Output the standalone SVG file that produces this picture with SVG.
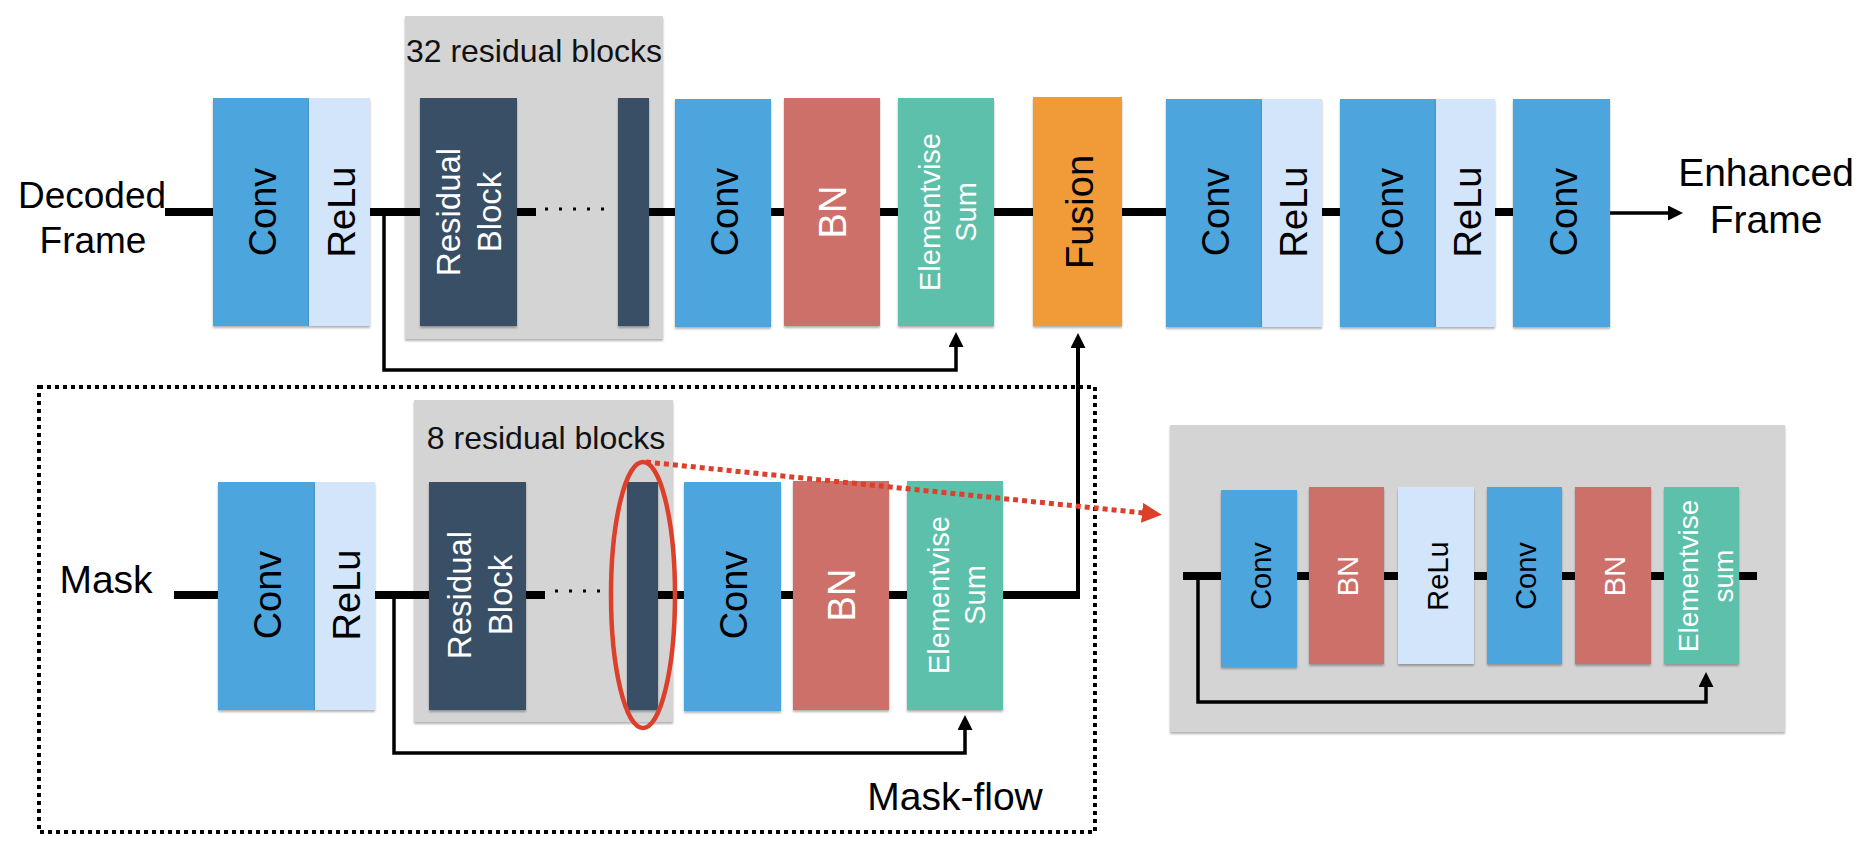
<svg xmlns="http://www.w3.org/2000/svg" width="1875" height="846" viewBox="0 0 1875 846">
<style>
text{font-family:"Liberation Sans",Arial,sans-serif;}
.lbl{font-size:38px;text-anchor:middle;fill:#000;}
.w{fill:#fff;}
.mid{font-size:33px;text-anchor:middle;}
.sm{font-size:29px;text-anchor:middle;}
.cap{font-size:32px;text-anchor:middle;fill:#111;}
.big{font-size:39px;text-anchor:middle;fill:#000;}
.conv{fill:#4ea5de;}
.relu{fill:#d3e5fa;}
.res{fill:#374f66;}
.bn{fill:#cd6f69;}
.sum{fill:#5dc0aa;}
.fus{fill:#f09b38;}
.grp{fill:#d4d4d4;}
.thick{stroke:#000;stroke-width:8;fill:none;}
.thin{stroke:#000;stroke-width:3.5;fill:none;}
.dots{stroke:#000;stroke-width:3;stroke-dasharray:3 11;fill:none;}
</style>
<defs>
<filter id="sh" x="-10%" y="-10%" width="120%" height="120%">
<feDropShadow dx="0" dy="2" stdDeviation="1.2" flood-color="#000" flood-opacity="0.3"/>
</filter>
<marker id="arr" viewBox="0 0 15 15" refX="3" refY="7.5" markerWidth="15" markerHeight="15" markerUnits="userSpaceOnUse" orient="auto">
<path d="M0,0 L15,7.5 L0,15 z" fill="#000"/>
</marker>
<marker id="arrRed" viewBox="0 0 20 20" refX="2" refY="10" markerWidth="20" markerHeight="20" markerUnits="userSpaceOnUse" orient="auto">
<path d="M0,0 L20,10 L0,20 z" fill="#dc3f2a"/>
</marker>
</defs>
<rect width="1875" height="846" fill="#fff"/>

<!-- containers -->
<g id="group32">
<rect class="grp" x="405" y="16" width="258" height="323" filter="url(#sh)"/>
<text class="cap" x="534" y="62">32 residual blocks</text>
</g>
<g id="maskflow">
<rect x="39" y="387" width="1056" height="445" fill="none" stroke="#000" stroke-width="4" stroke-dasharray="4 4"/>
<text class="big" x="955" y="810">Mask-flow</text>
</g>
<g id="group8">
<rect class="grp" x="414" y="400" width="259" height="322" filter="url(#sh)"/>
<text class="cap" x="546" y="449">8 residual blocks</text>
</g>
<g id="detail">
<rect class="grp" x="1170" y="425" width="615" height="307" filter="url(#sh)"/>
</g>

<!-- outer labels -->
<g id="input-decoded">
<text class="big" style="font-size:37px" x="92" y="208">Decoded</text>
<text class="big" style="font-size:37px" x="93" y="253">Frame</text>
</g>
<g id="output-enhanced">
<text class="big" x="1766" y="186">Enhanced</text>
<text class="big" x="1766" y="233">Frame</text>
</g>
<g id="input-mask">
<text class="big" x="106" y="593">Mask</text>
</g>

<!-- top row -->
<g id="t-conv1"><rect class="conv" x="213" y="98" width="96" height="228" filter="url(#sh)"/><text class="lbl" transform="translate(276,212) rotate(-90)">Conv</text></g>
<g id="t-relu1"><rect class="relu" x="309" y="98" width="61" height="228" filter="url(#sh)"/><text class="lbl" transform="translate(355,212) rotate(-90)">ReLu</text></g>
<g id="t-res"><rect class="res" x="420" y="98" width="97" height="228" filter="url(#sh)"/><text class="mid w" transform="translate(460,212) rotate(-90)">Residual</text><text class="mid w" transform="translate(501,212) rotate(-90)">Block</text></g>
<g id="t-bar"><rect class="res" x="618" y="98" width="31" height="228" filter="url(#sh)"/></g>
<g id="t-conv2"><rect class="conv" x="675" y="99" width="96" height="228" filter="url(#sh)"/><text class="lbl" transform="translate(738,212) rotate(-90)">Conv</text></g>
<g id="t-bn"><rect class="bn" x="784" y="98" width="96" height="228" filter="url(#sh)"/><text class="lbl w" transform="translate(846,212) rotate(-90)">BN</text></g>
<g id="t-sum"><rect class="sum" x="898" y="98" width="96" height="228" filter="url(#sh)"/><text class="sm w" transform="translate(940,212) rotate(-90)">Elementvise</text><text class="sm w" transform="translate(976,212) rotate(-90)">Sum</text></g>
<g id="t-fusion"><rect class="fus" x="1033" y="97" width="89" height="229" filter="url(#sh)"/><text class="lbl" transform="translate(1093,212) rotate(-90)">Fusion</text></g>
<g id="t-conv3"><rect class="conv" x="1166" y="99" width="96" height="228" filter="url(#sh)"/><text class="lbl" transform="translate(1229,212) rotate(-90)">Conv</text></g>
<g id="t-relu3"><rect class="relu" x="1262" y="99" width="60" height="228" filter="url(#sh)"/><text class="lbl" transform="translate(1307,212) rotate(-90)">ReLu</text></g>
<g id="t-conv4"><rect class="conv" x="1340" y="99" width="96" height="228" filter="url(#sh)"/><text class="lbl" transform="translate(1403,212) rotate(-90)">Conv</text></g>
<g id="t-relu4"><rect class="relu" x="1436" y="99" width="59" height="228" filter="url(#sh)"/><text class="lbl" transform="translate(1481,212) rotate(-90)">ReLu</text></g>
<g id="t-conv5"><rect class="conv" x="1513" y="99" width="97" height="228" filter="url(#sh)"/><text class="lbl" transform="translate(1577,212) rotate(-90)">Conv</text></g>

<!-- mask row -->
<g id="m-conv1"><rect class="conv" x="218" y="482" width="97" height="228" filter="url(#sh)"/><text class="lbl" transform="translate(281,595) rotate(-90)">Conv</text></g>
<g id="m-relu1"><rect class="relu" x="315" y="482" width="60" height="228" filter="url(#sh)"/><text class="lbl" transform="translate(360,595) rotate(-90)">ReLu</text></g>
<g id="m-res"><rect class="res" x="429" y="482" width="97" height="228" filter="url(#sh)"/><text class="mid w" transform="translate(471,595) rotate(-90)">Residual</text><text class="mid w" transform="translate(512,595) rotate(-90)">Block</text></g>
<g id="m-bar"><rect class="res" x="627" y="482" width="31" height="228" filter="url(#sh)"/></g>
<g id="m-conv2"><rect class="conv" x="684" y="482" width="97" height="229" filter="url(#sh)"/><text class="lbl" transform="translate(747,595) rotate(-90)">Conv</text></g>
<g id="m-bn"><rect class="bn" x="793" y="481" width="96" height="229" filter="url(#sh)"/><text class="lbl w" transform="translate(855,595) rotate(-90)">BN</text></g>
<g id="m-sum"><rect class="sum" x="907" y="481" width="96" height="229" filter="url(#sh)"/><text class="sm w" transform="translate(949,595) rotate(-90)">Elementvise</text><text class="sm w" transform="translate(985,595) rotate(-90)">Sum</text></g>

<!-- detail residual block -->
<g id="d-conv1"><rect class="conv" x="1221" y="490" width="76" height="177" filter="url(#sh)"/><text class="sm" transform="translate(1271,576) rotate(-90)">Conv</text></g>
<g id="d-bn1"><rect class="bn" x="1309" y="487" width="75" height="177" filter="url(#sh)"/><text class="sm w" transform="translate(1358,576) rotate(-90)">BN</text></g>
<g id="d-relu"><rect class="relu" x="1398" y="487" width="76" height="177" filter="url(#sh)"/><text class="sm" transform="translate(1448,576) rotate(-90)">ReLu</text></g>
<g id="d-conv2"><rect class="conv" x="1487" y="487" width="75" height="177" filter="url(#sh)"/><text class="sm" transform="translate(1536,576) rotate(-90)">Conv</text></g>
<g id="d-bn2"><rect class="bn" x="1575" y="487" width="76" height="177" filter="url(#sh)"/><text class="sm w" transform="translate(1625,576) rotate(-90)">BN</text></g>
<g id="d-sum"><rect class="sum" x="1664" y="487" width="75" height="177" filter="url(#sh)"/><text class="sm w" style="font-size:28px" transform="translate(1698,576) rotate(-90)">Elementvise</text><text class="sm w" style="font-size:28px" transform="translate(1733,576) rotate(-90)">sum</text></g>

<!-- connectors -->
<g id="connectors">
<path class="thick" d="M165,212 H213"/>
<path class="thick" d="M370,212 H420"/>
<path class="thick" d="M517,212 H536"/>
<path class="dots" d="M545,209 H606"/>
<path class="thick" d="M649,212 H675"/>
<path class="thick" d="M771,212 H784"/>
<path class="thick" d="M880,212 H898"/>
<path class="thick" d="M994,212 H1033"/>
<path class="thick" d="M1122,212 H1166"/>
<path class="thick" d="M1322,212 H1340"/>
<path class="thick" d="M1495,212 H1513"/>
<path class="thin" d="M1610,213 H1671" marker-end="url(#arr)"/>
<path class="thin" d="M384,212 V370 H956 V344" marker-end="url(#arr)"/>

<path class="thick" d="M174,595 H218"/>
<path class="thick" d="M375,595 H429"/>
<path class="thick" d="M526,595 H545"/>
<path class="dots" d="M555,591 H612"/>
<path class="thick" d="M658,595 H684"/>
<path class="thick" d="M781,595 H793"/>
<path class="thick" d="M889,595 H907"/>
<path class="thick" d="M1003,595 H1080"/>
<path stroke="#000" stroke-width="4" fill="none" d="M1078,599 V345" marker-end="url(#arr)"/>
<path class="thin" d="M394,595 V753 H965 V727" marker-end="url(#arr)"/>

<path class="thick" d="M1183,576 H1221"/>
<path class="thick" d="M1297,576 H1309"/>
<path class="thick" d="M1384,576 H1398"/>
<path class="thick" d="M1474,576 H1487"/>
<path class="thick" d="M1562,576 H1575"/>
<path class="thick" d="M1651,576 H1664"/>
<path class="thick" d="M1739,576 H1757"/>
<path class="thin" d="M1198,576 V702 H1706 V684" marker-end="url(#arr)"/>

<ellipse cx="643" cy="595" rx="32" ry="133" fill="none" stroke="#dc3f2a" stroke-width="4.5"/>
<path d="M646,462 L1144,513" stroke="#dc3f2a" stroke-width="5" stroke-dasharray="5 4" fill="none" marker-end="url(#arrRed)"/>
</g>
</svg>
